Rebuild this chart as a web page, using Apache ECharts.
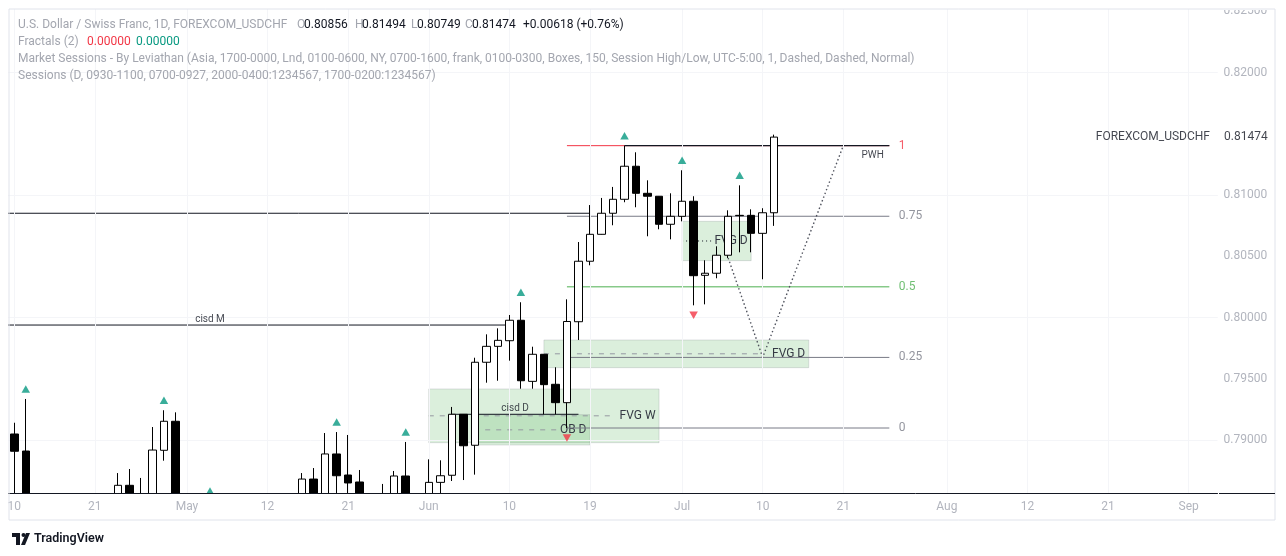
<!DOCTYPE html>
<html><head><meta charset="utf-8">
<script src="https://cdn.jsdelivr.net/npm/echarts@6/dist/echarts.min.js"></script>
<style>html,body{margin:0;padding:0;background:#fff}#c{width:1286px;height:556px}</style>
</head><body><div id="c"></div>
<script>
// ---------------- DATA ----------------
const N_BARS = 105;                       // bar slots shown on the time scale (incl. future)
const Y_MIN = 0.785671, Y_MAX = 0.825203; // visible price range
const tickLabels = [[0,'10'],[7,'21'],[15,'May'],[22,'12'],[29,'21'],[36,'Jun'],[43,'10'],[50,'19'],[58,'Jul'],[65,'10'],[72,'21'],[81,'Aug'],[88,'12'],[95,'21'],[102,'Sep']];
const priceLabels = [0.790,0.795,0.800,0.805,0.810,0.820,0.825];
const gridPrices = [0.790,0.795,0.800,0.805,0.810,0.815,0.820,0.825];
// [open, close, low, high]; '-' = bar completely outside the visible price range
const E = ['-','-','-','-'];
const candles = [
 [0.79049,0.78908,0.7845,0.79141],  //0
 [0.78910,0.7850,0.7838,0.79335],   //1
 E,E,E,E,E,E,E,                     //2-8
 [0.7850,0.78630,0.7840,0.78730],   //9
 [0.78630,0.7852,0.7845,0.78763],   //10
 [0.7850,0.7855,0.7842,0.78690],    //11
 [0.7852,0.78918,0.7848,0.79106],   //12
 [0.78916,0.79153,0.78831,0.79243], //13
 [0.79153,0.7850,0.7845,0.79226],   //14
 E,E,E,E,E,E,E,E,E,E,               //15-24
 [0.7852,0.78681,0.7845,0.78730],   //25
 [0.78681,0.7853,0.7845,0.78771],   //26
 [0.7852,0.78886,0.7848,0.79057],   //27
 [0.78886,0.78708,0.7853,0.79065],  //28
 [0.78714,0.78649,0.7852,0.79041],  //29
 [0.78657,0.7850,0.7843,0.78755],   //30
 E,                                 //31
 [0.7848,0.7855,0.7840,0.78641],    //32
 [0.7852,0.78706,0.7846,0.78747],   //33
 [0.78706,0.7853,0.7846,0.78984],   //34
 E,                                 //35
 [0.7854,0.78654,0.7850,0.78842],   //36
 [0.78654,0.78708,0.7852,0.78834],  //37
 [0.78712,0.79210,0.78665,0.79270], //38
 [0.79210,0.78953,0.78673,0.79212], //39
 [0.78957,0.79635,0.78717,0.79672], //40
 [0.79635,0.79765,0.79468,0.79863], //41
 [0.79765,0.79814,0.79484,0.79912], //42
 [0.79811,0.79978,0.79648,0.80021], //43
 [0.79978,0.79484,0.79419,0.80125], //44
 [0.79479,0.79700,0.79419,0.79762], //45
 [0.79700,0.79452,0.79210,0.79702], //46
 [0.79455,0.79305,0.79210,0.79594], //47
 [0.79305,0.79968,0.79098,0.80149], //48
 [0.79966,0.80460,0.79817,0.80617], //49
 [0.80460,0.80680,0.80427,0.80919], //50
 [0.80680,0.80852,0.80678,0.80977], //51
 [0.80852,0.80966,0.80754,0.81067], //52
 [0.80966,0.81236,0.80942,0.81404], //53
 [0.81236,0.81015,0.80901,0.81350], //54
 [0.81015,0.80991,0.80664,0.81121], //55
 [0.80991,0.80762,0.80721,0.80993], //56
 [0.80762,0.80827,0.80639,0.81015], //57
 [0.80827,0.80950,0.80786,0.81203], //58
 [0.80950,0.80342,0.80100,0.80991], //59
 [0.80345,0.80362,0.80108,0.80468], //60
 [0.80362,0.80509,0.80321,0.80582], //61
 [0.80509,0.80827,0.80487,0.80876], //62
 [0.80835,0.80832,0.80533,0.81080], //63
 [0.80835,0.80688,0.80533,0.80884], //64
 [0.80688,0.80856,0.80313,0.80893], //65
 [0.80856,0.81474,0.80749,0.81494]  //66
];
const fractalUp = [[1,0.79335],[13,0.79243],[17,0.78502],[28,0.79065],[34,0.78984],[44,0.80125],[53,0.81404],[58,0.81203],[63,0.81080]];
const fractalDown = [[48,0.79098],[59,0.80100]];
const levelLines = [
  {name:'cisd M', from:-9, to:43, price:0.79939},
  {name:'',       from:-9, to:50, price:0.80852},
  {name:'cisd D', from:38, to:49, price:0.79210}
];
const pwh = {name:'PWH', from:53, to:76, price:0.81404};
const fib = {from:48, to:76, low:0.79098, high:0.81404};
const fibRatios = [0, 0.25, 0.5, 0.75, 1];
const boxes = [
  {label:'FVG W', x0:36, x1:56, lo:0.78978, hi:0.79417, midFrom:36,   midTo:52,   dotted:false},
  {label:'OB D',  x0:40, x1:50, lo:0.78959, hi:0.79207, midFrom:40.9, midTo:47.1, dotted:false},
  {label:'FVG D', x0:46, x1:69, lo:0.79591, hi:0.79817, midFrom:46,   midTo:65,   dotted:false},
  {label:'FVG D', x0:58, x1:64, lo:0.80465, hi:0.80786, midFrom:58,   midTo:60.6, dotted:true}
];
const projPath = [[62,0.80487],[65,0.79675],[72,0.81404]];
const symbolName = 'FOREXCOM_USDCHF';

// ---------------- BUILD ----------------
const FONT = 'Roboto, "Noto Sans", sans-serif';
const categories = Array.from({length:N_BARS}, (_, i) => String(i));
const labelMap = {}; tickLabels.forEach(t => labelMap[t[0]] = t[1]);
const last = candles[candles.length-1], prev = candles[candles.length-2];
const chg = last[1] - prev[1];
const pct = chg / prev[1] * 100;

const series = [];
// faint grid
series.push({type:'line', xAxisIndex:1, data:[], silent:true, z:0,
  markLine:{silent:true, symbol:['none','none'], label:{show:false}, animation:false,
    lineStyle:{color:'#f4f5f8', type:'solid', width:1},
    data:[...gridPrices.map(p=>({yAxis:p})), ...tickLabels.map(t=>({xAxis:t[0]}))]}});
// boxes
series.push({type:'line', xAxisIndex:1, data:[], silent:true, z:1,
  markArea:{silent:true,
    itemStyle:{color:'rgba(76,175,80,0.2)', borderColor:'rgba(120,123,134,0.22)', borderWidth:1},
    label:{show:true, position:'insideRight', distance:4, color:'#363a45', fontSize:12, fontFamily:FONT},
    data: boxes.map(b=>[{name:b.label, xAxis:b.x0, yAxis:b.hi},{xAxis:b.x1, yAxis:b.lo}])}});
// box midlines
boxes.forEach(b=>{
  const mid = (b.lo+b.hi)/2;
  series.push({type:'line', xAxisIndex:1, silent:true, z:2, symbol:'none',
    data:[[b.midFrom,mid],[b.midTo,mid]],
    lineStyle: b.dotted ? {color:'#131722', width:1, type:[1,3]} : {color:'#9598a1', width:1, type:[5,6]}});
});
// fib lines
const fibColor = r => r===1 ? '#f23645' : (r===0.5 ? '#4caf50' : '#787b86');
fibRatios.forEach(r=>{
  const p = fib.low + (fib.high-fib.low)*r;
  series.push({type:'line', xAxisIndex:1, silent:true, z:2, symbol:'none',
    data:[[fib.from,p],[fib.to,p]], lineStyle:{color:fibColor(r), width:1}});
});
// level lines
levelLines.forEach(l=>{
  series.push({type:'line', xAxisIndex:1, silent:true, z:2, symbol:'none',
    data:[[l.from,l.price],[l.to,l.price]], lineStyle:{color:'#131722', width:1}});
});
series.push({type:'line', xAxisIndex:1, silent:true, z:3, symbol:'none',
  data:[[pwh.from,pwh.price],[pwh.to,pwh.price]], lineStyle:{color:'#131722', width:1.3}});
// projection path
series.push({type:'line', xAxisIndex:1, silent:true, z:3, symbol:'none',
  data:projPath, lineStyle:{color:'#50535e', width:1.4, type:[1.5,2.5]}});
// candles
series.push({type:'candlestick', xAxisIndex:0, z:5, barWidth:8, silent:true, clip:true,
  data:candles,
  itemStyle:{color:'#ffffff', color0:'#000000', borderColor:'#000000', borderColor0:'#000000', borderWidth:1}});
// fractals
series.push({type:'scatter', xAxisIndex:1, z:6, silent:true, clip:false,
  symbol:'triangle', symbolSize:[8.5,7.5], symbolOffset:[0,-10], itemStyle:{color:'#089981'}, data:fractalUp});
series.push({type:'scatter', xAxisIndex:1, z:6, silent:true, clip:false,
  symbol:'triangle', symbolRotate:180, symbolSize:[8.5,7.5], symbolOffset:[0,10], itemStyle:{color:'#f23645'}, data:fractalDown});
// text annotations
const txt = [];
levelLines.forEach(l=>{ if(l.name) txt.push({value:[(l.from+l.to)/2, l.price],
  label:{show:true, formatter:l.name, position:'top', distance:0, color:'#131722', fontSize:10, fontFamily:FONT}}); });
txt.push({value:[pwh.to, pwh.price], label:{show:true, formatter:pwh.name, position:[-5,5], align:'right', verticalAlign:'top', color:'#131722', fontSize:10, fontFamily:FONT}});
fibRatios.forEach(r=>{
  const p = fib.low + (fib.high-fib.low)*r;
  txt.push({value:[fib.to, p], label:{show:true, formatter:String(r), position:'right', distance:9, color:fibColor(r), fontSize:12, fontFamily:FONT}});
});
txt.push({value:[N_BARS-0.5, last[1]], label:{show:true, formatter:symbolName, position:'left', distance:7, color:'#131722', fontSize:12, fontFamily:FONT}});
txt.push({value:[N_BARS-0.5, last[1]], label:{show:true, formatter:last[1].toFixed(5), position:'right', distance:6, color:'#131722', fontSize:12, fontFamily:FONT}});
series.push({type:'scatter', xAxisIndex:1, z:7, silent:true, clip:false, symbolSize:1,
  itemStyle:{color:'rgba(0,0,0,0)'}, data:txt});

// header
const GRAY = '#a3a6af', DARK = '#131722';
const hFont = '12px ' + FONT;
function t(x, y, text, fill, font){ return {type:'text', x, y, silent:true, z:100,
  style:{text, fill, font: font || hFont, textVerticalAlign:'middle'}}; }
const graphic = [
  // clip overflow of top price label
  {type:'rect', shape:{x:1210, y:0, width:76, height:10}, style:{fill:'#ffffff'}, z:90, silent:true},
  // clip overflow of candles below the time axis
  {type:'rect', shape:{x:10, y:494, width:1264, height:25}, style:{fill:'#ffffff'}, z:8, silent:true},
  // pane frame
  {type:'rect', shape:{x:9, y:9, width:1266, height:511}, style:{fill:'none', stroke:'#e0e3eb', lineWidth:1}, z:95, silent:true},
  {type:'line', shape:{x1:1219, y1:493.5, x2:1275, y2:493.5}, style:{stroke:'#131722', lineWidth:1}, z:95, silent:true},
  t(18, 25, 'U.S. Dollar / Swiss Franc, 1D, FOREXCOM_USDCHF', GRAY),
  t(297, 25, 'O', GRAY), t(304, 25, last[0].toFixed(5), DARK),
  t(355, 25, 'H', GRAY), t(362, 25, last[3].toFixed(5), DARK),
  t(411, 25, 'L', GRAY), t(417, 25, last[2].toFixed(5), DARK),
  t(465, 25, 'C', GRAY), t(472, 25, last[1].toFixed(5), DARK),
  t(523, 25, (chg>=0?'+':'') + chg.toFixed(5) + ' (' + (pct>=0?'+':'') + pct.toFixed(2) + '%)', DARK),
  t(18, 42, 'Fractals (2)', GRAY), t(87, 42, '0.00000', '#f23645'), t(136, 42, '0.00000', '#089981'),
  t(18, 59, 'Market Sessions - By Leviathan (Asia, 1700-0000, Lnd, 0100-0600, NY, 0700-1600, frank, 0100-0300, Boxes, 150, Session High/Low, UTC-5:00, 1, Dashed, Dashed, Normal)', GRAY),
  t(18, 76, 'Sessions (D, 0930-1100, 0700-0927, 2000-0400:1234567, 1700-0200:1234567)', GRAY),
  // TradingView logo
  {type:'polygon', shape:{points:[[12,533],[20,533],[20,545],[16,545],[16,537],[12,537]]}, style:{fill:'#131722'}, z:100, silent:true},
  {type:'circle', shape:{cx:23.5, cy:535, r:2}, style:{fill:'#131722'}, z:100, silent:true},
  {type:'polygon', shape:{points:[[21,545],[26,533],[30,533],[25,545]]}, style:{fill:'#131722'}, z:100, silent:true},
  t(34, 539, 'TradingView', '#131722', '600 12.5px ' + FONT)
];

const option = {
  animation:false,
  backgroundColor:'#ffffff',
  grid:{left:8.5, right:68.5, top:9, bottom:63, containLabel:false},
  xAxis:[
    {type:'category', data:categories, boundaryGap:true, show:false},
    {type:'value', min:-0.5, max:N_BARS-0.5, position:'bottom', z:10,
      axisLine:{show:true, onZero:false, lineStyle:{color:'#131722', width:1}},
      axisTick:{show:false}, splitLine:{show:false},
      axisLabel:{customValues:tickLabels.map(t=>t[0]), formatter:v=>labelMap[v]||'', color:'#b2b5be', fontSize:12, margin:8, fontFamily:FONT, showMinLabel:true, showMaxLabel:true, hideOverlap:false}}
  ],
  yAxis:{type:'value', position:'right', min:Y_MIN, max:Y_MAX, scale:true,
    axisLine:{show:false}, axisTick:{show:false}, splitLine:{show:false},
    axisLabel:{customValues:priceLabels, formatter:v=>v.toFixed(5), color:'#b2b5be', fontSize:12, margin:6, fontFamily:FONT, showMinLabel:true, showMaxLabel:true}},
  series,
  graphic
};
const chart = echarts.init(document.getElementById('c'));
chart.setOption(option);
</script></body></html>
